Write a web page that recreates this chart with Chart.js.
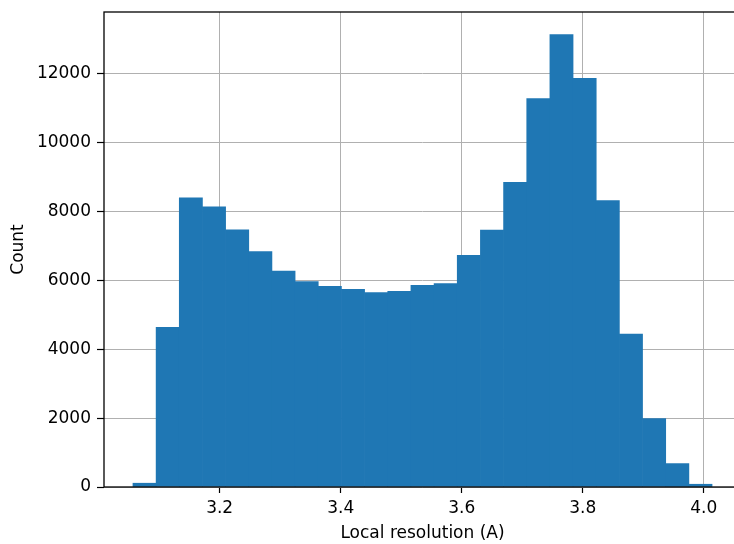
<!DOCTYPE html>
<html>
<head>
<meta charset="utf-8">
<title>Local resolution</title>
<script src="https://cdn.jsdelivr.net/npm/chart.js@4"></script>
<style>
  html, body { margin: 0; padding: 0; background: #fff; overflow: hidden; }
  #wrap { width: 734px; height: 544px; overflow: hidden; }
  /* el eje se sale por la derecha como en la imagen original */
  #box { width: 760px; height: 544px; }
</style>
</head>
<body>
<div id="wrap"><div id="box"><canvas id="chart-hist"></canvas></div></div>
<script>
// histograma: 25 bins iguales
const binInicio = 3.0567;
const binAncho = 0.03828;
const conteos = [110, 4640, 8400, 8140, 7470, 6840, 6270, 5970, 5830, 5740, 5650, 5680, 5860,
                 5910, 6730, 7460, 8850, 11280, 13140, 11870, 8320, 4440, 1990, 680, 80];
const ticksX = [3.2, 3.4, 3.6, 3.8, 4.0];
const ticksY = [0, 2000, 4000, 6000, 8000, 10000, 12000];

// centros de cada bin
const puntos = conteos.map((c, i) => ({ x: binInicio + (i + 0.5) * binAncho, y: c }));

// margenes tipo matplotlib (5%)
const rango = conteos.length * binAncho;
const xMin = binInicio - rango * 0.05;
const xMax = binInicio + rango * 1.05;
const yMax = Math.max(...conteos) * 1.05;

const fuente = { family: 'DejaVu Sans', size: 17 };
Chart.defaults.color = '#000';

// marco negro alrededor del area
const marcoPlugin = {
    id: 'marco',
    afterDraw(chart) {
        const { ctx, chartArea: a } = chart;
        ctx.save();
        ctx.strokeStyle = '#000';
        ctx.lineWidth = 1.3;
        ctx.strokeRect(a.left, a.top, a.right - a.left, a.bottom - a.top);
        ctx.restore();
    }
};

new Chart(document.getElementById('chart-hist').getContext('2d'), {
    type: 'bar',
    data: {
        datasets: [{
            label: 'Count',
            data: puntos,
            backgroundColor: '#1f77b4',
            borderWidth: 0,
            barPercentage: 1,
            categoryPercentage: 1,
            grouped: false
        }]
    },
    options: {
        responsive: true,
        maintainAspectRatio: false,
        animation: false,
        layout: { padding: { left: 0, right: 19, top: 12, bottom: 0 } },
        plugins: { legend: { display: false }, tooltip: { enabled: false } },
        scales: {
            x: {
                type: 'linear',
                min: xMin,
                max: xMax,
                offset: false,
                z: 1,
                afterBuildTicks: axis => { axis.ticks = ticksX.map(v => ({ value: v })); },
                afterFit: axis => { axis.height = 57; axis.paddingLeft = 0; axis.paddingRight = 0; },
                ticks: { font: fuente, padding: 5, maxRotation: 0, callback: v => v.toFixed(1) },
                grid: { offset: false, color: '#b0b0b0', lineWidth: 1, tickColor: '#000', tickLength: 6, tickWidth: 1.2 },
                border: { display: false },
                title: { display: true, text: 'Local resolution (A)', font: fuente, padding: { top: 0, bottom: 0 } }
            },
            y: {
                min: 0,
                max: yMax,
                z: 1,
                afterBuildTicks: axis => { axis.ticks = ticksY.map(v => ({ value: v })); },
                afterFit: axis => { axis.width = 104; axis.paddingTop = 0; axis.paddingBottom = 0; },
                ticks: { font: fuente, padding: 6, callback: v => String(v) },
                grid: { color: '#b0b0b0', lineWidth: 1, tickColor: '#000', tickLength: 7, tickWidth: 1.2 },
                border: { display: false },
                title: { display: true, text: 'Count', font: fuente, padding: { top: 8, bottom: 0 } }
            }
        }
    },
    plugins: [marcoPlugin]
});
</script>
</body>
</html>
